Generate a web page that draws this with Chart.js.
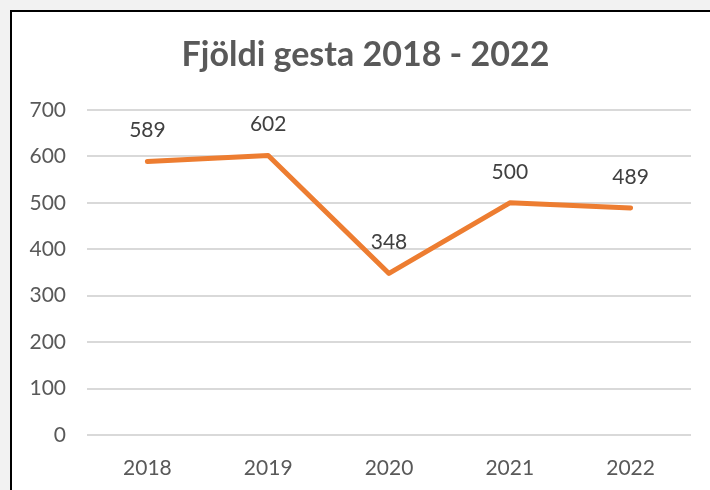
<!DOCTYPE html>
<html>
<head>
<meta charset="utf-8">
<script src="https://cdn.jsdelivr.net/npm/chart.js@4/dist/chart.umd.min.js"></script>
<style>
  html,body{margin:0;padding:0;background:#f2f2f2;width:710px;height:490px;overflow:hidden}
  #box{position:absolute;left:10px;top:10px;width:698px;height:478px;background:#fff;border-left:2px solid #000;border-top:2px solid #000}
  #c{display:block}
</style>
</head>
<body>
<div id="box"><canvas id="c" width="698" height="478"></canvas></div>
<script>
// gögn
const years=['2018','2019','2020','2021','2022'];
const guests=[589,602,348,500,489];
const yTicks=[0,100,200,300,400,500,600,700];
const chartTitle='Fjöldi gesta 2018 - 2022';

const FONT='Lato, "Open Sans", sans-serif';

// gildi fyrir ofan hvern punkt
const pointLabels={
  id:'pointLabels',
  afterLayout(chart){
    // fyrirsögn miðjuð yfir allan rammann eins og í Excel
    const t=chart.titleBlock;
    if(t){t.left=28;t.right=679;t.width=t.right-t.left;}
  },
  afterDatasetsDraw(chart){
    const ctx=chart.ctx;
    const meta=chart.getDatasetMeta(0);
    ctx.save();
    ctx.font='21px '+FONT;
    ctx.fillStyle='#404040';
    ctx.textAlign='center';
    ctx.textBaseline='middle';
    meta.data.forEach((pt,i)=>{
      ctx.fillText(String(guests[i]),pt.x,pt.y-31);
    });
    ctx.restore();
  }
};

new Chart(document.getElementById('c'),{
  type:'line',
  data:{labels:years,datasets:[{
    data:guests,
    borderColor:'#ED7D31',
    backgroundColor:'#ED7D31',
    borderWidth:5,
    borderCapStyle:'round',
    borderJoinStyle:'round',
    pointRadius:0,
    tension:0
  }]},
  options:{
    responsive:false,
    animation:false,
    layout:{padding:{left:0,right:19,top:0,bottom:0}},
    plugins:{
      legend:{display:false},
      tooltip:{enabled:false},
      title:{display:true,text:chartTitle,color:'#595959',font:{family:FONT,size:34,weight:'bold'},padding:{top:22.6,bottom:34.6}}
    },
    scales:{
      x:{
        offset:true,
        grid:{display:false,drawTicks:false},
        border:{display:false},
        ticks:{color:'#595959',font:{family:FONT,size:21},padding:21},
        afterFit(s){s.height=55;}
      },
      y:{
        min:0,max:700,
        afterBuildTicks(s){s.ticks=yTicks.map(v=>({value:v}));},
        grid:{color:'#d9d9d9',lineWidth:2,drawTicks:false},
        border:{display:false},
        ticks:{color:'#595959',font:{family:FONT,size:21},padding:21},
        afterFit(s){s.width=75;}
      }
    }
  },
  plugins:[pointLabels]
});
</script>
</body>
</html>
